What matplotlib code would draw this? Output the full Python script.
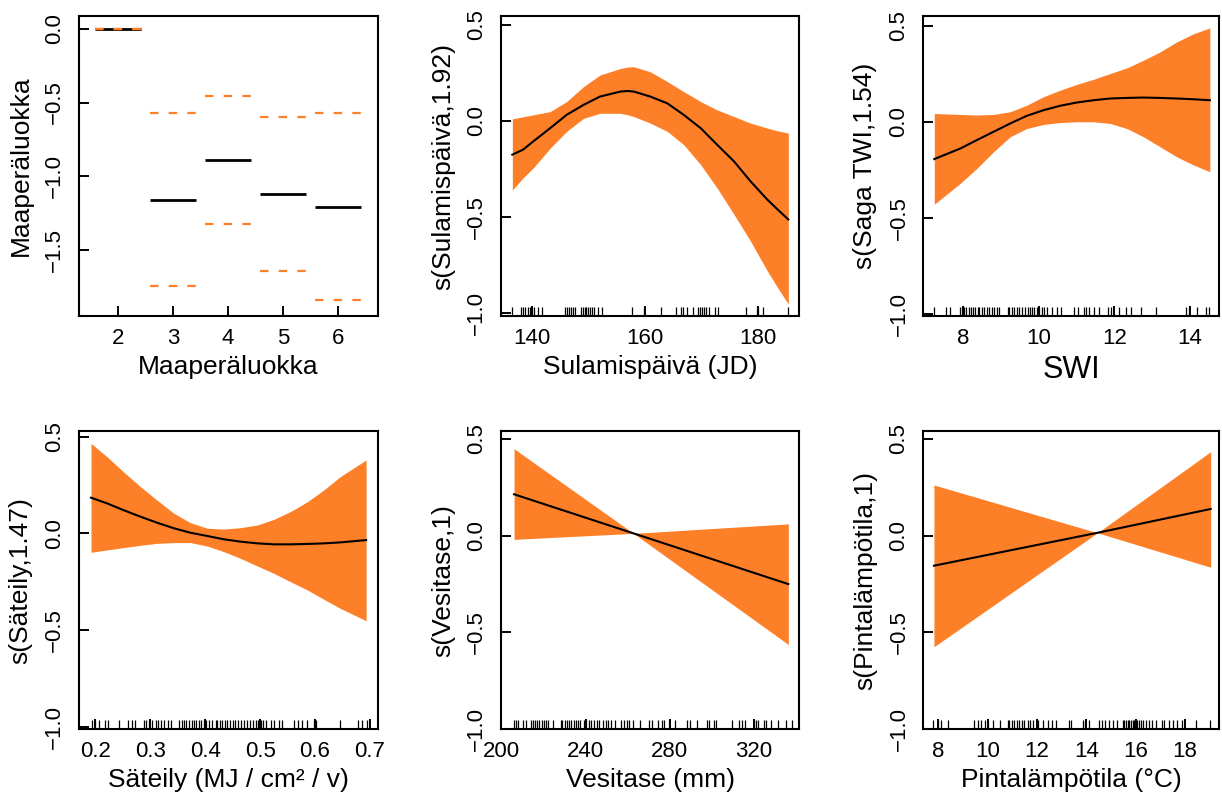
import matplotlib
matplotlib.use('Agg')
import matplotlib.pyplot as plt
from matplotlib.ticker import FuncFormatter

plt.rcParams['font.family'] = ['Liberation Sans', 'DejaVu Sans']

ORANGE = '#FD7F28'

# --- Maaperäluokka (parametrinen termi) ---
soil_levels = [2, 3, 4, 5, 6]
soil_fit    = [0.0, -1.163, -0.889, -1.118, -1.209]
soil_upper  = [0.0, -0.574, -0.454, -0.599, -0.571]
soil_lower  = [0.0, -1.746, -1.324, -1.642, -1.844]

# --- Sulamispäivä ---
melt_x     = [136.6, 138.5, 140.3, 143.3, 146.2, 149.2, 152.1, 155.7, 157.0, 158.1,
              161.0, 164.0, 166.9, 169.9, 172.8, 175.8, 178.7, 181.7, 183.5, 185.4]
melt_fit   = [-0.176, -0.150, -0.107, -0.038, 0.031, 0.083, 0.126, 0.152, 0.155, 0.152,
              0.126, 0.091, 0.031, -0.038, -0.124, -0.211, -0.314, -0.410, -0.461, -0.513]
melt_upper = [0.010, 0.021, 0.031, 0.048, 0.100, 0.178, 0.238, 0.272, 0.280, 0.281,
              0.255, 0.204, 0.152, 0.100, 0.057, 0.022, -0.012, -0.038, -0.052, -0.064]
melt_lower = [-0.360, -0.297, -0.245, -0.142, -0.055, 0.013, 0.039, 0.039, 0.031, 0.022,
              -0.012, -0.055, -0.124, -0.228, -0.349, -0.487, -0.625, -0.781, -0.867, -0.953]
melt_rug   = [136.6, 138.2, 138.5, 138.9, 139.3, 139.7, 140.1, 140.5, 141.2, 141.8,
              145.9, 146.2, 146.6, 147.0, 147.4, 147.7, 148.8, 149.1, 149.4, 149.7,
              150.0, 150.3, 150.7, 151.1, 151.8, 152.5, 157.7, 159.9, 162.9, 165.5,
              166.4, 166.8, 167.4, 168.6, 169.4, 169.8, 170.2, 170.5, 170.9, 171.3,
              172.5, 173.0, 177.9, 179.8, 180.1, 181.0, 185.3]

# --- SWI (Saga TWI) ---
twi_x     = [7.23, 7.92, 8.36, 8.80, 9.24, 9.68, 10.12, 10.56, 11.00, 11.45,
             11.89, 12.33, 12.77, 13.21, 13.65, 14.10, 14.53]
twi_fit   = [-0.194, -0.139, -0.095, -0.052, -0.009, 0.031, 0.060, 0.083, 0.100,
             0.112, 0.121, 0.124, 0.126, 0.124, 0.121, 0.117, 0.112]
twi_upper = [0.043, 0.038, 0.035, 0.038, 0.052, 0.086, 0.130, 0.164, 0.194,
             0.221, 0.251, 0.280, 0.320, 0.363, 0.415, 0.458, 0.488]
twi_lower = [-0.429, -0.320, -0.242, -0.156, -0.078, -0.035, -0.014, -0.004, 0.0,
             0.0, -0.009, -0.035, -0.078, -0.130, -0.182, -0.225, -0.260]
twi_rug   = [7.21, 7.53, 7.65, 7.91, 7.97, 8.03, 8.07, 8.14, 8.20, 8.25, 8.32, 8.38,
             8.42, 8.50, 8.56, 8.62, 8.69, 8.76, 8.82, 8.88, 8.95, 9.17, 9.22, 9.29,
             9.35, 9.41, 9.48, 9.55, 9.62, 9.70, 9.77, 9.82, 9.88, 9.94, 10.01, 10.08,
             10.14, 10.21, 10.35, 10.47, 10.59, 10.94, 11.03, 11.20, 11.26, 11.33,
             11.47, 11.58, 11.82, 11.91, 12.11, 12.30, 12.44, 12.70, 13.10, 13.89,
             13.98, 14.20, 14.44, 14.51]

# --- Säteily ---
rad_x     = [0.192, 0.221, 0.251, 0.282, 0.312, 0.343, 0.373, 0.404, 0.434,
             0.464, 0.495, 0.525, 0.555, 0.586, 0.616, 0.646, 0.693]
rad_fit   = [0.184, 0.155, 0.120, 0.086, 0.055, 0.026, 0.003, -0.014, -0.031,
             -0.043, -0.052, -0.057, -0.057, -0.055, -0.052, -0.047, -0.035]
rad_upper = [0.465, 0.396, 0.318, 0.241, 0.172, 0.103, 0.055, 0.026, 0.022,
             0.029, 0.043, 0.072, 0.112, 0.163, 0.224, 0.293, 0.379]
rad_lower = [-0.098, -0.086, -0.074, -0.062, -0.052, -0.048, -0.048, -0.066, -0.095,
             -0.129, -0.169, -0.207, -0.250, -0.293, -0.341, -0.388, -0.452]
rad_rug   = [0.193, 0.199, 0.206, 0.217, 0.223, 0.243, 0.260, 0.266, 0.272, 0.288,
             0.292, 0.297, 0.303, 0.311, 0.314, 0.319, 0.325, 0.332, 0.337, 0.352,
             0.357, 0.361, 0.365, 0.370, 0.375, 0.379, 0.383, 0.388, 0.393, 0.397,
             0.402, 0.407, 0.413, 0.419, 0.422, 0.426, 0.431, 0.436, 0.440, 0.446,
             0.450, 0.455, 0.460, 0.466, 0.470, 0.476, 0.482, 0.487, 0.492, 0.496,
             0.501, 0.505, 0.510, 0.519, 0.525, 0.534, 0.539, 0.561, 0.569, 0.577,
             0.586, 0.598, 0.601, 0.646, 0.679, 0.686, 0.694]

# --- Vesitase ---
water_x     = [206.0, 262.8, 336.4]
water_fit   = [0.214, 0.012, -0.250]
water_upper = [0.449, 0.012, 0.061]
water_lower = [-0.019, 0.012, -0.562]
water_rug   = [206.0, 207.0, 208.1, 210.1, 211.7, 213.9, 214.8, 215.9, 217.0, 218.0,
               219.1, 220.2, 221.1, 222.2, 224.3, 228.1, 229.0, 230.1, 231.2, 232.2,
               233.3, 234.4, 235.3, 236.4, 237.5, 239.1, 240.3, 241.6, 242.7, 243.8,
               245.4, 246.6, 248.2, 249.5, 250.6, 252.1, 254.2, 256.9, 258.4, 259.6,
               260.8, 262.4, 265.8, 270.3, 271.5, 274.2, 276.2, 277.3, 279.7, 282.5,
               288.4, 289.5, 293.1, 297.8, 298.9, 301.0, 302.1, 309.6, 312.8, 314.3,
               315.6, 319.9, 321.0, 322.2, 324.6, 325.7, 328.2, 331.7, 335.1, 338.0]

# --- Pintalämpötila ---
temp_x     = [7.82, 14.45, 19.04]
temp_fit   = [-0.155, 0.015, 0.138]
temp_upper = [0.262, 0.015, 0.434]
temp_lower = [-0.574, 0.015, -0.163]
temp_rug   = [7.80, 7.97, 8.11, 8.38, 9.46, 9.60, 9.73, 9.87, 10.00, 10.20, 10.50,
              10.81, 10.88, 10.99, 11.08, 11.18, 11.28, 11.39, 11.49, 11.62, 11.72,
              11.85, 12.03, 12.23, 12.43, 12.61, 12.77, 13.28, 13.38, 13.85, 13.96,
              14.12, 14.50, 14.64, 14.77, 14.93, 15.09, 15.23, 15.47, 15.54, 15.61,
              15.68, 15.74, 15.81, 15.88, 15.95, 16.04, 16.12, 16.22, 16.31, 16.42,
              16.53, 16.66, 16.82, 17.07, 17.16, 17.34, 17.50, 17.66, 17.88, 18.45,
              19.00]

Y_TICKS = [0.5, 0.0, -0.5, -1.0]


def minus_fmt(v, pos):
    return f'{v:.1f}'.replace('-', '\u2212')


def r_style(ax, xlim, ylim, xticks, yticks, xlabel, ylabel, xlabel_size=19):
    """R:n termplot-tyyli: kehys, sisäänpäin tikit, pystyyn käännetyt y-luvut"""
    ax.set_xlim(xlim)
    ax.set_ylim(ylim)
    ax.set_xticks(xticks)
    ax.set_yticks(yticks)
    ax.yaxis.set_major_formatter(FuncFormatter(minus_fmt))
    ax.tick_params(direction='in', length=7, width=1.4, labelsize=16)
    ax.tick_params(axis='x', pad=8.5)
    ax.tick_params(axis='y', pad=10, labelrotation=90)
    for lab in ax.get_yticklabels():
        lab.set_va('center')
    for s in ax.spines.values():
        s.set_linewidth(1.5)
    ax.set_xlabel(xlabel, fontsize=xlabel_size)
    ax.set_ylabel(ylabel, fontsize=19)
    ax.xaxis.set_label_coords(0.5, -0.13)
    ax.yaxis.set_label_coords(-0.155, 0.5)


def smooth_panel(ax, x, fit, lo, hi, rug):
    ax.fill_between(x, lo, hi, color=ORANGE, linewidth=0)
    ax.plot(x, fit, color='black', linewidth=1.5)
    ax.vlines(rug, 0, 0.03, transform=ax.get_xaxis_transform(),
              color='black', linewidth=0.9)


fig = plt.figure(figsize=(12.22, 7.96), dpi=100)

cols = [(0.0646, 0.2447), (0.4100, 0.2439), (0.7556, 0.2422)]
top_b, top_h = 0.6030, 0.3769
bot_b, bot_h = 0.0838, 0.3748

ax1 = fig.add_axes([cols[0][0], top_b, cols[0][1], top_h])
ax2 = fig.add_axes([cols[1][0], top_b, cols[1][1], top_h])
ax3 = fig.add_axes([cols[2][0], top_b, cols[2][1], top_h])
ax4 = fig.add_axes([cols[0][0], bot_b, cols[0][1], bot_h])
ax5 = fig.add_axes([cols[1][0], bot_b, cols[1][1], bot_h])
ax6 = fig.add_axes([cols[2][0], bot_b, cols[2][1], bot_h])

# paneeli 1: luokittainen termi, viivat ± 0.42
half = 0.42
for lv, f, up, lo in zip(soil_levels, soil_fit, soil_upper, soil_lower):
    ax1.plot([lv - half, lv + half], [f, f], color='black', linewidth=2.0,
             solid_capstyle='butt')
    for v in (up, lo):
        ax1.plot([lv - half, lv + half], [v, v], color=ORANGE, linewidth=1.6,
                 linestyle=(0, (3.8, 4.6)), dash_capstyle='butt')
r_style(ax1, (1.29, 6.73), (-1.95, 0.088), soil_levels, [0.0, -0.5, -1.0, -1.5],
        'Maaperäluokka', 'Maaperäluokka')

smooth_panel(ax2, melt_x, melt_fit, melt_lower, melt_upper, melt_rug)
r_style(ax2, (134.6, 187.3), (-1.015, 0.545), [140, 160, 180], Y_TICKS,
        'Sulamispäivä (JD)', 's(Sulamispäivä,1.92)')

smooth_panel(ax3, twi_x, twi_fit, twi_lower, twi_upper, twi_rug)
r_style(ax3, (6.94, 14.78), (-1.01, 0.55), [8, 10, 12, 14], Y_TICKS,
        'SWI', 's(Saga TWI,1.54)', xlabel_size=22)

smooth_panel(ax4, rad_x, rad_fit, rad_lower, rad_upper, rad_rug)
r_style(ax4, (0.170, 0.7146), (-1.013, 0.529), [0.2, 0.3, 0.4, 0.5, 0.6, 0.7],
        Y_TICKS, 'Säteily (MJ / cm² / v)', 's(Säteily,1.47)')

smooth_panel(ax5, water_x, water_fit, water_lower, water_upper, water_rug)
r_style(ax5, (199.8, 341.5), (-1.0, 0.541), [200, 240, 280, 320], Y_TICKS,
        'Vesitase (mm)', 's(Vesitase,1)')

smooth_panel(ax6, temp_x, temp_fit, temp_lower, temp_upper, temp_rug)
r_style(ax6, (7.39, 19.39), (-1.0, 0.541), [8, 10, 12, 14, 16, 18], Y_TICKS,
        'Pintalämpötila (°C)', 's(Pintalämpötila,1)')

fig.savefig('out.png', dpi=100)
plt.close(fig)
